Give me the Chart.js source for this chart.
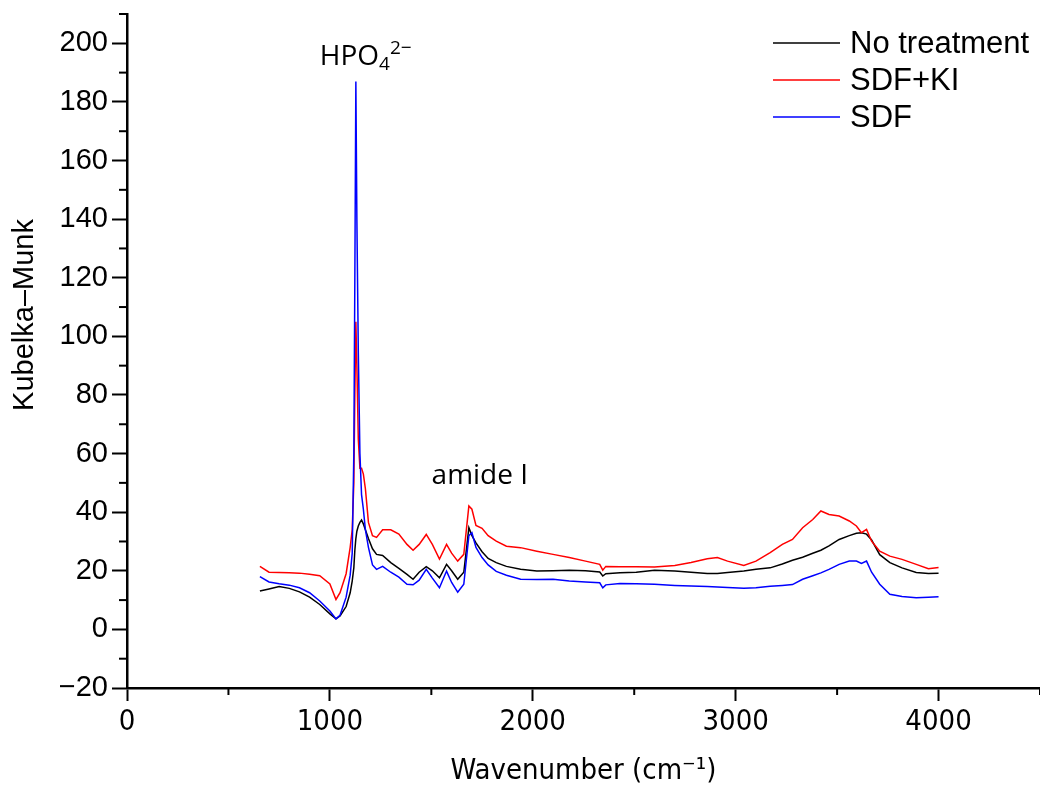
<!DOCTYPE html>
<html>
<head>
<meta charset="utf-8">
<script src="https://cdn.jsdelivr.net/npm/chart.js@4.4.1/dist/chart.umd.min.js"></script>
<style>
  body { margin: 0; background: #fff; }
  canvas { display: block; }
</style>
</head>
<body>
<canvas id="myChart" width="1040" height="785"></canvas>
<script>
// wavenumber grid (cm-1)
const wavenumbers = [655, 700, 750, 800, 850, 900, 950, 1000, 1030, 1050, 1080, 1100, 1110, 1118, 1123, 1128, 1133, 1140, 1148, 1156,
  1165, 1175, 1190, 1210, 1230, 1260, 1300, 1340, 1380, 1410, 1440, 1475, 1505, 1540, 1575, 1600, 1630, 1660, 1685, 1700,
  1720, 1750, 1780, 1820, 1870, 1940, 2020, 2100, 2180, 2260, 2330, 2345, 2360, 2430, 2510, 2600, 2700, 2780, 2860, 2910,
  2960, 3040, 3100, 3170, 3230, 3280, 3330, 3380, 3420, 3460, 3510, 3560, 3595, 3620, 3645, 3670, 3710, 3760, 3820, 3890,
  3950, 4000];

const noTreatment = [13.1, 13.8, 14.6, 14.0, 12.8, 11.0, 8.5, 5.3, 3.6, 4.6, 7.8, 12.5, 16.5, 21, 27, 31, 33.5, 35.3, 36.5, 37.3,
  36, 34, 31, 27.5, 25.6, 25.2, 22.8, 20.8, 18.8, 17.1, 19.5, 21.4, 20.0, 17.6, 22.2, 20, 17.1, 19.5, 34.7, 32,
  29.5, 26.5, 24.2, 22.8, 21.5, 20.5, 19.9, 20.0, 20.2, 20.0, 19.6, 18.2, 19.0, 19.3, 19.5, 20.2, 19.9, 19.5, 19.1, 19.1,
  19.4, 19.9, 20.5, 21.0, 22.3, 23.6, 24.6, 26, 27, 28.5, 30.7, 32, 32.8, 33, 32.5, 30.5, 25.5, 22.8, 21.0, 19.4,
  19.1, 19.2];

const sdfKI = [21.5, 19.5, 19.4, 19.3, 19.2, 18.8, 18.3, 15.5, 10.2, 12.5, 19, 28, 34, 50, 80, 105, 90, 65, 55, 55,
  53, 48, 36.5, 32, 31.4, 34, 34, 32.5, 29, 27, 29, 32.4, 29, 24, 29, 26, 23.3, 25.6, 42.1, 41,
  35.5, 34.5, 32, 30.1, 28.4, 27.9, 26.7, 25.6, 24.5, 23.3, 22.2, 20.2, 21.5, 21.4, 21.4, 21.3, 21.8, 22.8, 24.1, 24.5,
  23.3, 21.8, 23.3, 26.2, 29, 30.7, 34.7, 37.5, 40.4, 39.2, 38.7, 37, 35.3, 33, 34.1, 30.1, 26.7, 25, 23.9, 22.2,
  20.7, 21.1];

const sdf = [18, 16.2, 15.6, 15.1, 14.2, 12.5, 9.7, 6.3, 3.6, 4.8, 11, 18.5, 26, 60, 120, 187, 140, 95, 60, 46,
  41, 34, 28, 22, 20.5, 21.5, 19.5, 17.8, 15.4, 15.2, 16.8, 20.5, 17.5, 14.2, 19.9, 16, 12.7, 15.4, 32, 33,
  28, 24.5, 22, 19.8, 18.5, 17.1, 17.0, 17.1, 16.5, 16.2, 15.9, 14.2, 15.2, 15.7, 15.6, 15.4, 15.0, 14.8, 14.6, 14.5,
  14.3, 14.0, 14.2, 14.7, 15.0, 15.3, 17.1, 18.3, 19.3, 20.5, 22.2, 23.3, 23.3, 22.5, 23.3, 19.5, 15.4, 12, 11.2, 10.8,
  11, 11.1];

const seriesNames = ['No treatment', 'SDF+KI', 'SDF'];
const seriesColors = ['#000000', '#ff0000', '#0000ff'];
const xTicks = [0, 1000, 2000, 3000, 4000];
const yTicks = [-20, 0, 20, 40, 60, 80, 100, 120, 140, 160, 180, 200];

function pts(vals) {
  return wavenumbers.map((w, i) => ({ x: w, y: vals[i] }));
}

const narrow = '"DejaVu Sans Condensed", "Liberation Sans Narrow", sans-serif';

// minor ticks, y title, legend and peak labels
const extras = {
  id: 'extras',
  afterDraw(chart) {
    const c = chart.ctx;
    const xs = chart.scales.x, ys = chart.scales.y;
    c.save();
    c.strokeStyle = '#000';
    c.lineWidth = 2;
    for (let v = 500; v <= 4500; v += 1000) {
      const px = xs.getPixelForValue(v);
      c.beginPath(); c.moveTo(px, ys.bottom); c.lineTo(px, ys.bottom + 7); c.stroke();
    }
    for (let v = -10; v <= 210; v += 20) {
      const py = ys.getPixelForValue(v);
      c.beginPath(); c.moveTo(xs.left, py); c.lineTo(xs.left - 8, py); c.stroke();
    }

    // y axis title
    c.save();
    c.translate(25, 315);
    c.rotate(-Math.PI / 2);
    c.font = '29px "Liberation Sans", Arial, sans-serif';
    c.textAlign = 'center';
    c.textBaseline = 'middle';
    c.fillStyle = '#000';
    c.fillText('Kubelka\u2013Munk', 0, 0);
    c.restore();

    // legend
    c.font = '31px "Liberation Sans", Arial, sans-serif';
    c.textBaseline = 'middle';
    c.fillStyle = '#000';
    seriesNames.forEach((name, i) => {
      const y = 43 + i * 37;
      c.strokeStyle = seriesColors[i];
      c.lineWidth = 1.5;
      c.beginPath(); c.moveTo(773, y); c.lineTo(840, y); c.stroke();
      c.fillText(name, 850, y + 1);
    });

    // peak labels
    c.textBaseline = 'alphabetic';
    const f = '"Open Sans", "Noto Sans", sans-serif';
    let x0 = xs.getPixelForValue(950);
    let yb = ys.getPixelForValue(192.5);
    c.font = '28px ' + f;
    c.fillText('HPO', x0, yb);
    x0 += c.measureText('HPO').width;
    c.font = '19px ' + f;
    c.fillText('4', x0, yb + 5);
    x0 += c.measureText('4').width;
    c.fillText('2\u2212', x0, yb - 11);

    c.font = '28px ' + f;
    c.textAlign = 'center';
    c.fillText('amide I', xs.getPixelForValue(1739), ys.getPixelForValue(49.5));
    c.restore();
  }
};

const ctx = document.getElementById('myChart');

new Chart(ctx, {
  type: 'line',
  data: {
    datasets: [
      { label: seriesNames[0], data: pts(noTreatment), borderColor: seriesColors[0], order: 2 },
      { label: seriesNames[1], data: pts(sdfKI), borderColor: seriesColors[1], order: 1 },
      { label: seriesNames[2], data: pts(sdf), borderColor: seriesColors[2], order: 0 }
    ]
  },
  options: {
    responsive: false,
    animation: false,
    devicePixelRatio: 1,
    layout: { padding: { top: 14, right: 0, left: 0, bottom: 0 } },
    elements: {
      point: { radius: 0 },
      line: { borderWidth: 1.5, tension: 0 }
    },
    scales: {
      x: {
        type: 'linear',
        min: 0,
        max: 4500,
        afterFit(s) { s.height = 97; s.paddingRight = 0; },
        afterBuildTicks(s) { s.ticks = xTicks.map(v => ({ value: v })); },
        ticks: {
          color: '#000',
          padding: 4,
          font: { family: narrow, size: 29 },
          callback: v => String(v)
        },
        grid: { drawOnChartArea: false, tickLength: 13, tickWidth: 2, tickColor: '#000' },
        border: { color: '#000', width: 2.5 },
        title: {
          display: true,
          text: 'Wavenumber (cm\u207B\u00B9)',
          color: '#000',
          padding: { top: 0, bottom: -4 },
          font: { family: narrow, size: 29 }
        }
      },
      y: {
        min: -20,
        max: 210,
        afterFit(s) { s.width = 127; s.paddingTop = 0; s.paddingBottom = 0; },
        afterBuildTicks(s) { s.ticks = yTicks.map(v => ({ value: v })); },
        ticks: {
          color: '#000',
          padding: 4,
          font: { family: '"Liberation Sans", Arial, sans-serif', size: 29 },
          callback: v => v < 0 ? '\u2212' + Math.abs(v) : String(v)
        },
        grid: { drawOnChartArea: false, tickLength: 15, tickWidth: 2, tickColor: '#000' },
        border: { color: '#000', width: 2.5 }
      }
    },
    plugins: {
      legend: { display: false },
      tooltip: { enabled: false }
    }
  },
  plugins: [extras]
});
</script>
</body>
</html>
